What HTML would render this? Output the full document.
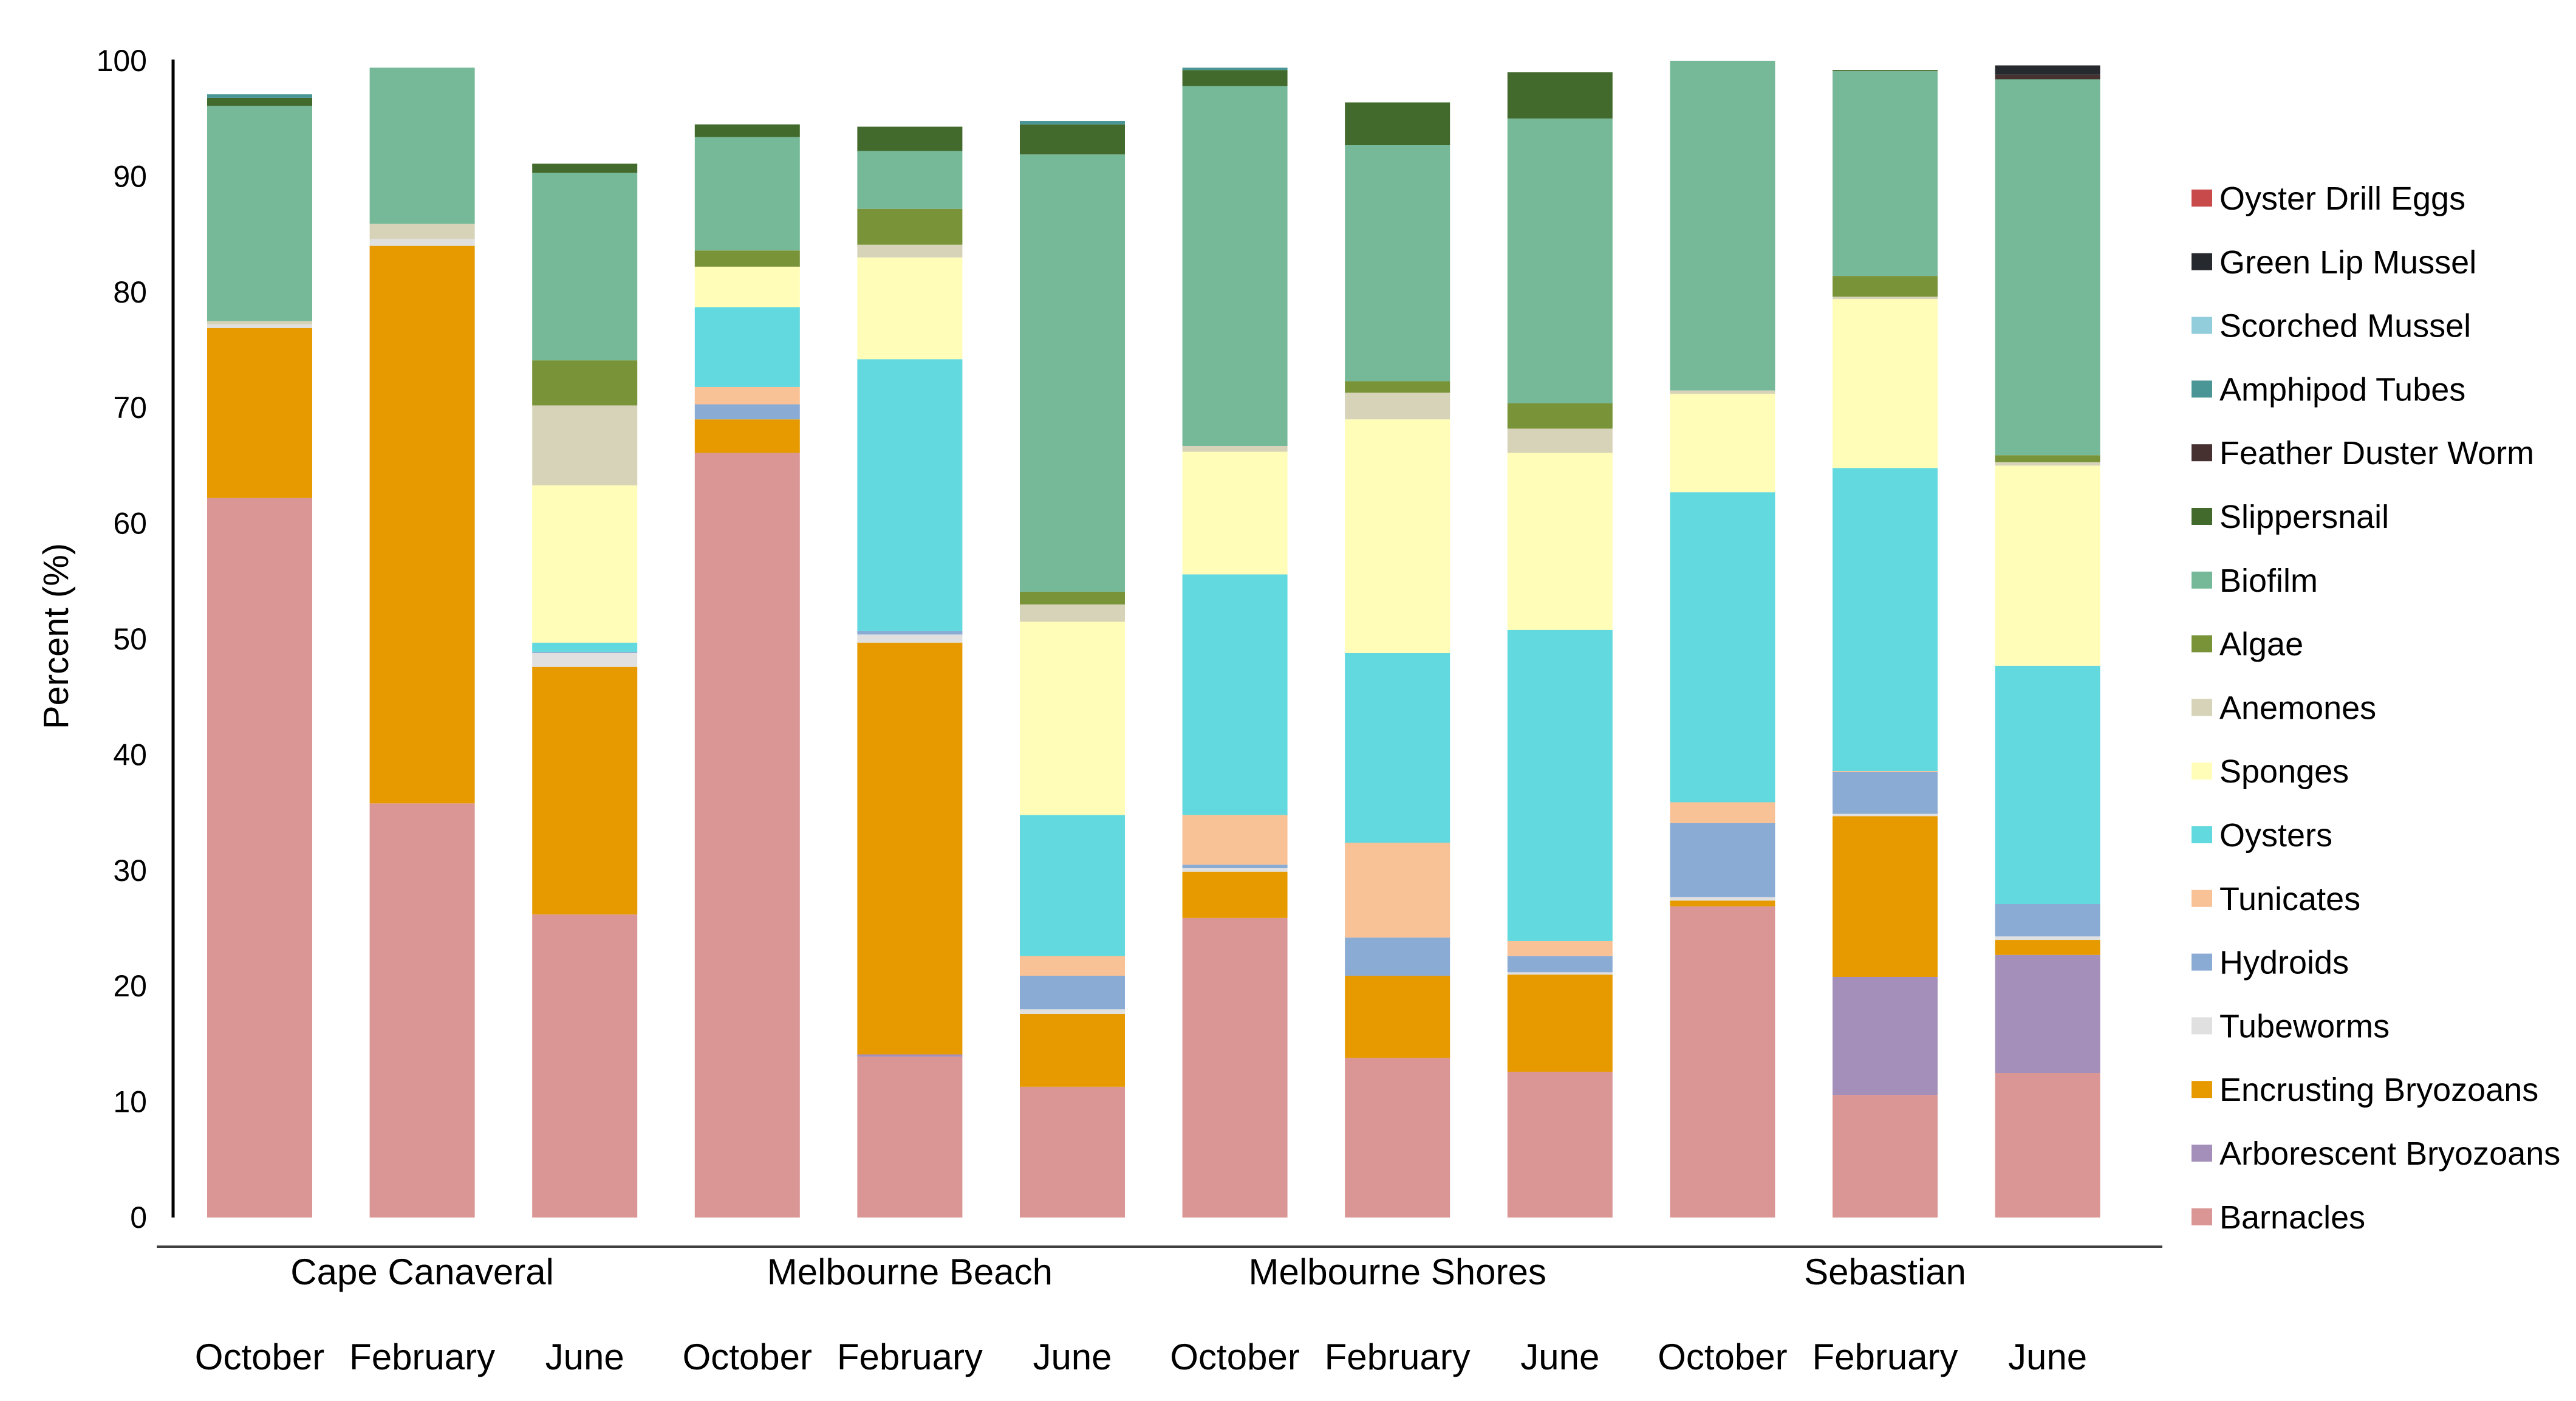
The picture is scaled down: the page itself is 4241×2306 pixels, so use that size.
<!DOCTYPE html>
<html><head><meta charset="utf-8"><style>
html,body{margin:0;padding:0;background:#fff;}
svg{display:block;font-family:"Liberation Sans",sans-serif;}
</style></head><body>
<svg id="chart" width="4241" height="2306" viewBox="0 0 4241 2306" xmlns="http://www.w3.org/2000/svg">
<rect x="0" y="0" width="4241" height="2306" fill="#fff"/>
<g id="bars"></g>
<g id="axes"></g>
<g id="legend"></g>
</svg>
<script>
const sites = ["Cape Canaveral","Melbourne Beach","Melbourne Shores","Sebastian"];
const months = ["October","February","June"];
const yTicks = [0,10,20,30,40,50,60,70,80,90,100];
const seriesNames = ["Barnacles","Arborescent Bryozoans","Encrusting Bryozoans","Tubeworms","Hydroids","Tunicates","Oysters","Sponges","Anemones","Algae","Biofilm","Slippersnail","Feather Duster Worm","Amphipod Tubes","Scorched Mussel","Green Lip Mussel","Oyster Drill Eggs"];
const seriesColors = ["#da9694","#a48fba","#e69a00","#e0e0e0","#8aabd4","#f9c196","#62d9de","#fffdb7","#d7d3b8","#789338","#76b998","#426a2c","#463030","#4a9696","#92cddc","#262a2e","#c94a4a"];
// values per series, 12 bars: CC Oct,Feb,Jun, MB Oct,Feb,Jun, MS Oct,Feb,Jun, Seb Oct,Feb,Jun
const barnacles   = [62.2,35.8,26.2,66.1,13.9,11.3,25.9,13.8,12.6,26.9,10.6,12.5];
const arborescent = [0,0,0,0,0.2,0,0,0,0,0,10.2,10.2];
const encrusting  = [14.7,48.2,21.4,2.9,35.6,6.3,4.0,7.1,8.4,0.5,13.9,1.3];
const tubeworms   = [0.3,0.6,1.2,0,0.7,0.4,0.3,0,0.2,0.3,0.2,0.3];
const hydroids    = [0,0,0.1,1.3,0.3,2.9,0.3,3.3,1.4,6.4,3.6,2.8];
const tunicates   = [0,0,0,1.5,0,1.7,4.3,8.2,1.3,1.8,0.1,0];
const oysters     = [0,0,0.8,6.9,23.5,12.2,20.8,16.4,26.9,26.8,26.2,20.6];
const sponges     = [0,0,13.6,3.5,8.8,16.7,10.6,20.2,15.3,8.5,14.6,17.3];
const anemones    = [0.3,1.3,6.9,0,1.1,1.5,0.5,2.3,2.1,0.3,0.2,0.3];
const algae       = [0,0,3.9,1.4,3.1,1.1,0,1.0,2.2,0,1.8,0.6];
const biofilm     = [18.6,13.5,16.2,9.8,5.0,37.8,31.1,20.4,24.6,28.5,17.7,32.5];
const slipper     = [0.7,0,0.8,1.1,2.1,2.6,1.4,3.7,4.0,0,0.1,0];
const feather     = [0,0,0,0,0,0,0,0,0,0,0,0.4];
const amphipod    = [0.3,0,0,0,0,0.3,0.2,0,0,0,0,0];
const scorched    = [0,0,0,0,0,0,0,0,0,0,0,0];
const greenlip    = [0,0,0,0,0,0,0,0,0,0,0,0.8];
const drilleggs   = [0,0,0,0,0,0,0,0,0,0,0,0];
const seriesValues = [barnacles,arborescent,encrusting,tubeworms,hydroids,tunicates,oysters,sponges,anemones,algae,biofilm,slipper,feather,amphipod,scorched,greenlip,drilleggs];

const NS="http://www.w3.org/2000/svg";
const y0=2004, yTop=100, x0=341, step=267.6, bw=173;
function yScale(v){return y0-(y0-yTop)*v/100;}
function xScale(i){return x0+i*step;}
function mk(tag,attrs,parent){const e=document.createElementNS(NS,tag);for(const k in attrs)e.setAttribute(k,attrs[k]);parent.appendChild(e);return e;}

const bars=document.getElementById('bars');
const nBars=barnacles.length;
for(let i=0;i<nBars;i++){
  let cum=0;
  for(let s=0;s<seriesValues.length;s++){
    const v=seriesValues[s][i];
    if(v<=0){continue;}
    const r=mk('rect',{x:xScale(i),y:yScale(cum+v),width:bw,height:yScale(cum)-yScale(cum+v),fill:seriesColors[s]},bars);
    
    
    cum+=v;
  }
}

const axes=document.getElementById('axes');
const yl=mk('line',{x1:285,y1:yTop-2,x2:285,y2:y0,stroke:'#000','stroke-width':5},axes);


const xl=mk('line',{x1:258,y1:2052,x2:3560,y2:2052,stroke:'#404040','stroke-width':4},axes);


yTicks.forEach(t=>{
  const tx=mk('text',{x:242,y:yScale(t)+17,'text-anchor':'end','font-size':50,fill:'#000'},axes);
  tx.textContent=t;
  
  
});
const yt=mk('text',{x:0,y:0,'text-anchor':'middle','font-size':58,fill:'#000',transform:'translate(112,1047) rotate(-90)'},axes);
yt.textContent='Percent (%)';


sites.forEach((s,k)=>{
  const cx=xScale(k*3+1)+bw/2;
  const t=mk('text',{x:cx,y:2114,'text-anchor':'middle','font-size':60,fill:'#000'},axes);
  t.textContent=s;
  
  
  months.forEach((m,j)=>{
    const mt=mk('text',{x:xScale(k*3+j)+bw/2,y:2254,'text-anchor':'middle','font-size':60,fill:'#000'},axes);
    mt.textContent=m;
    
    
  });
});

const legend=document.getElementById('legend');
for(let s=seriesNames.length-1,row=0;s>=0;s--,row++){
  const cy=326+row*104.8;
  const g=mk('g',{},legend);
  
  
  mk('rect',{x:3608,y:cy-14,width:34,height:28,fill:seriesColors[s]},g);
  const t=mk('text',{x:3654,y:cy+19,'font-size':54,fill:'#000'},g);
  t.textContent=seriesNames[s];
}
</script>
</body></html>
